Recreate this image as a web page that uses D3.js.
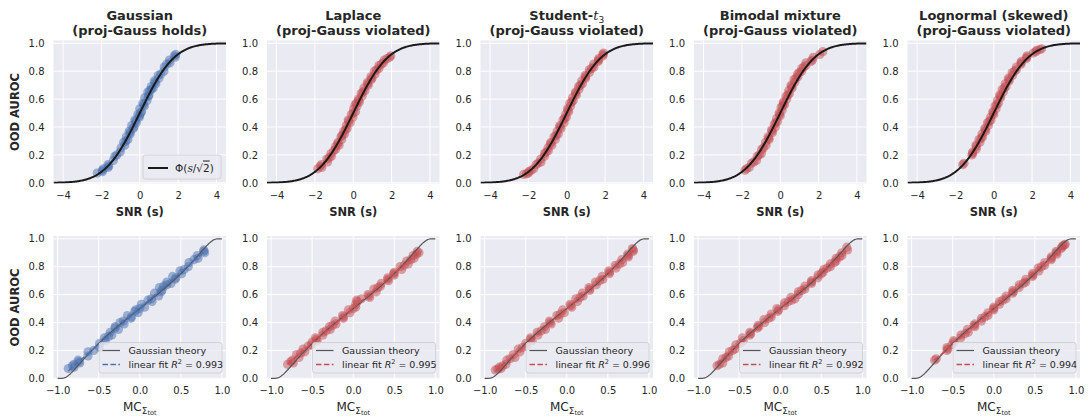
<!DOCTYPE html>
<html>
<head>
<meta charset="utf-8">
<script src="https://cdn.jsdelivr.net/npm/d3@7"></script>
<style>
  body { margin: 0; background: #fff; }
  text { font-family: "DejaVu Sans", sans-serif; fill: #262626; }
</style>
</head>
<body>
<div class="chart"></div>
<script>
var w = 1090, h = 417;
var blue = "#4C72B0", red = "#C44E52";

// ---- data (one set of arrays per column) ----
var gaussAuroc = [0.07,0.08,0.10,0.11,0.13,0.16,0.19,0.22,0.25,0.27,0.29,0.31,0.33,0.35,0.37,0.39,0.41,0.43,0.45,0.47,0.49,0.51,0.53,0.55,0.57,0.59,0.61,0.63,0.65,0.67,0.69,0.71,0.73,0.75,0.77,0.80,0.83,0.86,0.88,0.90,0.92,
                  0.09,0.12,0.20,0.30,0.36,0.40,0.44,0.48,0.50,0.56,0.62,0.66,0.68,0.72,0.78,0.85,0.91];
var gaussSnr   = [-2.22,-1.95,-1.90,-1.65,-1.66,-1.38,-1.30,-1.02,-0.98,-0.78,-0.84,-0.62,-0.70,-0.50,-0.55,-0.34,-0.42,-0.18,-0.26,-0.02,-0.10,0.10,0.00,0.24,0.16,0.38,0.26,0.48,0.42,0.62,0.60,0.84,0.76,1.00,0.96,1.26,1.28,1.58,1.55,1.85,1.88,
                  -1.95,-1.62,-1.20,-0.72,-0.50,-0.30,-0.22,-0.02,0.05,0.20,0.45,0.52,0.70,0.80,1.10,1.40,1.80];
var gaussMc    = [-0.87,-0.80,-0.80,-0.73,-0.75,-0.63,-0.63,-0.49,-0.49,-0.42,-0.43,-0.34,-0.36,-0.26,-0.30,-0.19,-0.20,-0.11,-0.15,-0.02,-0.05,0.06,0.02,0.15,0.14,0.23,0.18,0.27,0.24,0.33,0.33,0.43,0.40,0.51,0.49,0.59,0.60,0.71,0.70,0.79,0.78,
                  -0.82,-0.74,-0.56,-0.38,-0.30,-0.24,-0.10,-0.06,0.00,0.10,0.26,0.29,0.38,0.44,0.54,0.66,0.78];

var laplaceAuroc = [0.10,0.11,0.13,0.15,0.17,0.19,0.21,0.24,0.26,0.27,0.29,0.31,0.33,0.35,0.37,0.39,0.41,0.43,0.45,0.47,0.49,0.51,0.53,0.55,0.57,0.58,0.60,0.62,0.64,0.66,0.68,0.70,0.72,0.74,0.76,0.78,0.80,0.82,0.84,0.86,0.88,0.90,0.91,
                    0.12,0.18,0.23,0.28,0.34,0.38,0.44,0.50,0.56,0.59,0.65,0.71,0.75,0.81,0.85,0.89];
var laplaceSnr   = [-1.85,-1.64,-1.66,-1.34,-1.38,-1.14,-1.16,-0.92,-0.92,-0.74,-0.80,-0.60,-0.64,-0.46,-0.50,-0.32,-0.36,-0.16,-0.26,-0.02,-0.10,0.12,0.02,0.20,0.16,0.32,0.27,0.46,0.41,0.61,0.56,0.78,0.74,0.94,0.92,1.14,1.10,1.34,1.34,1.58,1.62,1.90,1.96,
                    -1.72,-1.26,-1.02,-0.80,-0.58,-0.40,-0.24,0.00,0.10,0.28,0.50,0.76,0.98,1.22,1.46,1.76];
var laplaceMc    = [-0.80,-0.73,-0.74,-0.66,-0.69,-0.59,-0.61,-0.51,-0.50,-0.44,-0.46,-0.37,-0.37,-0.28,-0.29,-0.21,-0.22,-0.12,-0.13,-0.04,-0.06,0.03,0.03,0.05,0.10,0.20,0.18,0.28,0.25,0.33,0.34,0.43,0.42,0.50,0.50,0.59,0.57,0.67,0.65,0.74,0.73,0.80,0.78,
                    -0.76,-0.64,-0.55,-0.45,-0.33,-0.25,-0.12,0.00,0.04,0.19,0.30,0.42,0.49,0.62,0.70,0.77];

var studentAuroc = [0.06,0.07,0.08,0.10,0.13,0.15,0.17,0.19,0.21,0.23,0.25,0.27,0.29,0.31,0.33,0.35,0.37,0.39,0.41,0.43,0.45,0.47,0.49,0.51,0.53,0.55,0.57,0.59,0.61,0.63,0.65,0.67,0.69,0.71,0.73,0.75,0.77,0.79,0.81,0.83,0.85,0.87,0.89,0.91,0.93,
                    0.065,0.09,0.14,0.22,0.28,0.34,0.40,0.46,0.52,0.58,0.64,0.70,0.76,0.82,0.88,0.92];
var studentSnr   = [-2.25,-2.00,-1.98,-1.72,-1.60,-1.34,-1.36,-1.16,-1.16,-0.96,-0.98,-0.78,-0.82,-0.60,-0.66,-0.44,-0.50,-0.30,-0.36,-0.14,-0.20,-0.02,-0.06,0.10,0.04,0.20,0.16,0.34,0.30,0.50,0.46,0.64,0.62,0.82,0.78,0.98,0.96,1.18,1.18,1.42,1.40,1.64,1.66,1.90,1.92,
                    -2.10,-1.86,-1.50,-1.08,-0.86,-0.56,-0.36,-0.12,0.06,0.26,0.46,0.70,0.98,1.30,1.66,1.88];
var studentMc    = [-0.87,-0.80,-0.82,-0.74,-0.73,-0.63,-0.65,-0.57,-0.59,-0.49,-0.50,-0.42,-0.44,-0.35,-0.36,-0.26,-0.27,-0.19,-0.21,-0.10,-0.12,-0.03,-0.05,0.06,0.04,0.13,0.11,0.20,0.19,0.28,0.27,0.36,0.35,0.44,0.43,0.52,0.51,0.60,0.59,0.68,0.67,0.75,0.74,0.81,0.80,
                    -0.84,-0.78,-0.69,-0.54,-0.44,-0.31,-0.20,-0.08,0.05,0.16,0.28,0.40,0.52,0.64,0.75,0.81];

var bimodalAuroc = [0.09,0.11,0.14,0.16,0.19,0.21,0.24,0.27,0.29,0.31,0.33,0.36,0.38,0.40,0.42,0.44,0.46,0.48,0.50,0.52,0.54,0.56,0.58,0.60,0.62,0.64,0.66,0.68,0.70,0.72,0.74,0.76,0.78,0.80,0.82,0.84,0.86,0.88,0.90,0.92,0.94,
                    0.10,0.15,0.20,0.25,0.32,0.37,0.43,0.49,0.55,0.57,0.63,0.69,0.75,0.79,0.83,0.87];
var bimodalSnr   = [-1.84,-1.62,-1.50,-1.24,-1.20,-0.98,-0.97,-0.74,-0.77,-0.58,-0.63,-0.40,-0.45,-0.26,-0.31,-0.14,-0.19,0.00,-0.06,0.10,0.04,0.22,0.16,0.34,0.30,0.48,0.44,0.62,0.56,0.76,0.72,0.92,0.90,1.12,1.12,1.34,1.34,1.68,1.72,2.06,2.22,
                    -1.76,-1.38,-1.10,-0.88,-0.60,-0.44,-0.24,-0.04,0.12,0.18,0.40,0.60,0.82,1.00,1.22,1.60];
var bimodalMc    = [-0.77,-0.70,-0.70,-0.63,-0.62,-0.55,-0.54,-0.45,-0.46,-0.37,-0.37,-0.28,-0.27,-0.19,-0.20,-0.11,-0.11,-0.03,-0.04,0.05,0.05,0.14,0.13,0.22,0.22,0.30,0.30,0.38,0.38,0.46,0.46,0.52,0.53,0.61,0.61,0.68,0.68,0.75,0.75,0.82,0.81,
                    -0.74,-0.66,-0.58,-0.49,-0.36,-0.26,-0.14,-0.02,0.10,0.18,0.26,0.38,0.50,0.57,0.66,0.72];

var lognormAuroc = [0.13,0.20,0.22,0.24,0.27,0.29,0.31,0.33,0.35,0.37,0.39,0.41,0.43,0.45,0.47,0.49,0.51,0.53,0.55,0.57,0.59,0.61,0.63,0.65,0.67,0.69,0.71,0.73,0.75,0.77,0.79,0.81,0.83,0.85,0.87,0.89,0.91,0.93,0.95,0.96,
                    0.14,0.21,0.26,0.32,0.38,0.44,0.50,0.56,0.62,0.68,0.74,0.80,0.86,0.90,0.94,0.955];
var lognormSnr   = [-1.62,-1.14,-1.10,-0.92,-0.93,-0.72,-0.77,-0.58,-0.61,-0.42,-0.47,-0.28,-0.33,-0.14,-0.17,0.00,-0.05,0.12,0.07,0.24,0.19,0.36,0.31,0.50,0.44,0.64,0.60,0.80,0.76,0.98,0.96,1.18,1.18,1.42,1.44,1.70,1.74,2.06,2.24,2.50,
                    -1.55,-1.10,-0.90,-0.66,-0.45,-0.24,-0.03,0.16,0.34,0.56,0.80,1.08,1.42,1.72,2.20,2.40];
var lognormMc    = [-0.72,-0.57,-0.57,-0.51,-0.49,-0.40,-0.40,-0.31,-0.32,-0.23,-0.23,-0.15,-0.15,-0.07,-0.07,0.00,0.00,0.07,0.07,0.15,0.15,0.23,0.23,0.31,0.31,0.39,0.39,0.47,0.47,0.55,0.54,0.62,0.62,0.70,0.70,0.77,0.76,0.82,0.84,0.87,
                    -0.70,-0.56,-0.48,-0.35,-0.24,-0.11,0.00,0.11,0.24,0.36,0.48,0.58,0.70,0.76,0.83,0.86];

var titles = ["Gaussian", "Laplace", "Student-", "Bimodal mixture", "Lognormal (skewed)"];
var subtitles = ["(proj-Gauss holds)", "(proj-Gauss violated)", "(proj-Gauss violated)", "(proj-Gauss violated)", "(proj-Gauss violated)"];
var r2Labels = ["0.993", "0.995", "0.996", "0.992", "0.994"];
var colors = [blue, red, red, red, red];
var snrTicks = [-4, -2, 0, 2, 4];
var mcTicks = [-1.0, -0.5, 0.0, 0.5, 1.0];
var aurocTicks = [0.0, 0.2, 0.4, 0.6, 0.8, 1.0];

var aurocs = [gaussAuroc, laplaceAuroc, studentAuroc, bimodalAuroc, lognormAuroc];
var snrs = [gaussSnr, laplaceSnr, studentSnr, bimodalSnr, lognormSnr];
var mcs = [gaussMc, laplaceMc, studentMc, bimodalMc, lognormMc];

// layout
var left0 = 53.5, colStep = 213.5, pw = 172.5;
var rowTop = [40.5, 236], ph = 143;
var theoryK = 1.17;

function erf(x) {
    var s = x < 0 ? -1 : 1;
    x = Math.abs(x);
    var t = 1 / (1 + 0.3275911 * x);
    var y = 1 - (((((1.061405429 * t - 1.453152027) * t) + 1.421413741) * t - 0.284496736) * t + 0.254829592) * t * Math.exp(-x * x);
    return s * y;
}
function Phi(x) { return 0.5 * (1 + erf(x / Math.SQRT2)); }

var fmt = function(d) { return d3.format(".1f")(d).replace("-", "\u2212"); };
var fmtInt = function(d) { return String(d).replace("-", "\u2212"); };

var svg = d3.select(".chart").append("svg")
    .attr("width", w).attr("height", h);

function panel(col, row) {
    var x0 = left0 + col * colStep, y0 = rowTop[row];
    var g = svg.append("g").attr("transform", "translate(" + x0 + "," + y0 + ")");
    var x = row == 0 ? d3.scaleLinear().domain([-4.5, 4.5]).range([0, pw])
                     : d3.scaleLinear().domain([-1.05, 1.05]).range([0, pw]);
    var y = d3.scaleLinear().domain([-0.005, 1.02]).range([ph, 0]);
    var xt = row == 0 ? snrTicks : mcTicks;

    var clipId = "clip" + col + "_" + row;
    g.append("clipPath").attr("id", clipId).append("rect")
        .attr("width", pw).attr("height", ph);

    g.append("rect").attr("width", pw).attr("height", ph).attr("fill", "#EAEAF2");

    g.selectAll(".gx").data(xt).enter().append("line")
        .attr("x1", function(d) { return x(d); }).attr("x2", function(d) { return x(d); })
        .attr("y1", 0).attr("y2", ph).attr("stroke", "#fff").attr("stroke-width", 1);
    g.selectAll(".gy").data(aurocTicks).enter().append("line")
        .attr("y1", function(d) { return y(d); }).attr("y2", function(d) { return y(d); })
        .attr("x1", 0).attr("x2", pw).attr("stroke", "#fff").attr("stroke-width", 1);

    var ax = g.append("g").attr("transform", "translate(0," + ph + ")")
        .call(d3.axisBottom(x).tickValues(xt).tickSize(0).tickPadding(8)
              .tickFormat(row == 0 ? fmtInt : fmt));
    var ay = g.append("g")
        .call(d3.axisLeft(y).tickValues(aurocTicks).tickSize(0).tickPadding(9).tickFormat(fmt));
    [ax, ay].forEach(function(a) {
        a.select(".domain").remove();
        a.selectAll("text").attr("font-size", "10px").attr("font-family", "DejaVu Sans").attr("fill", "#262626");
    });

    var color = colors[col];
    var pts = aurocs[col].map(function(a, i) {
        return [row == 0 ? snrs[col][i] : mcs[col][i], a];
    });
    var plot = g.append("g").attr("clip-path", "url(#" + clipId + ")");

    plot.selectAll("circle").data(pts).enter().append("circle")
        .attr("cx", function(d) { return x(d[0]); })
        .attr("cy", function(d) { return y(d[1]); })
        .attr("r", 4.6)
        .attr("fill", color).attr("fill-opacity", 0.5);

    var line = d3.line().x(function(d) { return x(d[0]); }).y(function(d) { return y(d[1]); });
    if (row == 0) {
        var curve = d3.range(-4.5, 4.501, 0.05).map(function(s) { return [s, Phi(s / Math.SQRT2)]; });
        plot.append("path").datum(curve).attr("d", line)
            .attr("fill", "none").attr("stroke", "#1a1a1a").attr("stroke-width", 2);
    } else {
        var curve2 = d3.range(-1, 1.0001, 0.01).map(function(m) {
            var mm = Math.max(-0.9999, Math.min(0.9999, m));
            return [m, Phi(theoryK * mm / Math.sqrt(1 - mm * mm))];
        });
        plot.append("path").datum(curve2).attr("d", line)
            .attr("fill", "none").attr("stroke", "#555").attr("stroke-width", 1.2);
        // least squares fit through the points
        var mx = d3.mean(pts, function(d) { return d[0]; }), my = d3.mean(pts, function(d) { return d[1]; });
        var sxy = d3.sum(pts, function(d) { return (d[0] - mx) * (d[1] - my); });
        var sxx = d3.sum(pts, function(d) { return (d[0] - mx) * (d[0] - mx); });
        var b = sxy / sxx, a0 = my - b * mx;
        var ext = d3.extent(pts, function(d) { return d[0]; });
        plot.append("path").datum(ext.map(function(m) { return [m, a0 + b * m]; })).attr("d", line)
            .attr("fill", "none").attr("stroke", color).attr("stroke-width", 1.5)
            .attr("stroke-dasharray", "5.5,2.4");
    }

    // legends
    if (row == 0 && col == 0) {
        var lg = g.append("g").attr("transform", "translate(89.5,114.5)");
        lg.append("rect").attr("width", 78).attr("height", 24).attr("rx", 2.5)
            .attr("fill", "#EAEAF2").attr("fill-opacity", 0.8).attr("stroke", "#ccc").attr("stroke-width", 0.8);
        lg.append("line").attr("x1", 5).attr("x2", 25).attr("y1", 13).attr("y2", 13)
            .attr("stroke", "#1a1a1a").attr("stroke-width", 2);
        var lt = lg.append("text").attr("x", 32).attr("y", 16.5).attr("font-size", "10.5px");
        lt.append("tspan").text("\u03A6(");
        lt.append("tspan").attr("font-family", "DejaVu Serif").attr("font-style", "italic").text("s");
        lt.append("tspan").text("/\u221A");
        lt.append("tspan").attr("text-decoration", "overline").text("2");
        lt.append("tspan").text(")");
    }
    if (row == 1) {
        var lw = 123, lh = 30.5;
        var lg2 = g.append("g").attr("transform", "translate(" + (pw - 4 - lw) + "," + (ph - 6 - lh) + ")");
        lg2.append("rect").attr("width", lw).attr("height", lh).attr("rx", 2.5)
            .attr("fill", "#EAEAF2").attr("fill-opacity", 0.8).attr("stroke", "#ccc").attr("stroke-width", 0.8);
        lg2.append("line").attr("x1", 3.5).attr("x2", 21).attr("y1", 8).attr("y2", 8)
            .attr("stroke", "#555").attr("stroke-width", 1.2);
        lg2.append("text").attr("x", 29.5).attr("y", 11.3).attr("font-size", "9.5px").text("Gaussian theory");
        lg2.append("line").attr("x1", 3.5).attr("x2", 21).attr("y1", 22).attr("y2", 22)
            .attr("stroke", color).attr("stroke-width", 1.5).attr("stroke-dasharray", "5.5,2.4");
        var t2 = lg2.append("text").attr("x", 29.5).attr("y", 25.3).attr("font-size", "9.5px");
        t2.append("tspan").text("linear fit ");
        t2.append("tspan").attr("font-style", "italic").text("R");
        t2.append("tspan").attr("font-size", "6.5px").attr("dy", -4).text("2");
        t2.append("tspan").attr("dy", 4).text(" = " + r2Labels[col]);
    }

    // axis labels
    if (row == 0) {
        g.append("text").attr("x", pw / 2).attr("y", 216 - y0).attr("text-anchor", "middle")
            .attr("font-size", "11.5px").attr("font-weight", "bold").text("SNR (s)");
        var tt = g.append("text").attr("x", pw / 2).attr("y", 19.5 - y0).attr("text-anchor", "middle")
            .attr("font-size", "13px").attr("font-weight", "bold");
        tt.append("tspan").text(titles[col]);
        if (col == 2) {
            tt.append("tspan").attr("font-weight", "normal").attr("font-style", "italic").attr("font-family", "DejaVu Serif").text("t");
            tt.append("tspan").attr("font-weight", "normal").attr("font-size", "9px").attr("dy", 3).text("3");
        }
        g.append("text").attr("x", pw / 2).attr("y", 35 - y0).attr("text-anchor", "middle")
            .attr("font-size", "13px").attr("font-weight", "bold").text(subtitles[col]);
    } else {
        var ml = g.append("text").attr("x", pw / 2).attr("y", 411 - y0).attr("text-anchor", "middle")
            .attr("font-size", "12px");
        ml.append("tspan").text("MC");
        ml.append("tspan").attr("font-size", "9px").attr("dy", 2.5).text("\u03A3");
        ml.append("tspan").attr("font-size", "6.5px").attr("dy", 1.5).text("tot");
    }
    if (col == 0) {
        g.append("text").attr("transform", "translate(" + (19 - x0) + "," + (ph / 2) + ") rotate(-90)")
            .attr("text-anchor", "middle").attr("font-size", "11.5px").attr("font-weight", "bold")
            .text("OOD AUROC");
    }
}

for (var c = 0; c < 5; c++) {
    panel(c, 0);
    panel(c, 1);
}
</script>
</body>
</html>
